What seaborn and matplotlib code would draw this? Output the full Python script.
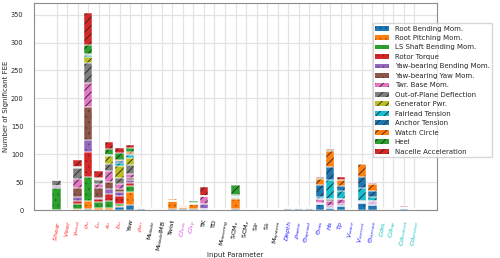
import numpy as np
import matplotlib
matplotlib.use("Agg")
import matplotlib.pyplot as plt
import seaborn as sns

# input parameters (x axis) and their label colours
params = ["$Shear$", "$Veer$", r"$\gamma_{wind}$", r"$\sigma_u$", "$L_u$", "$a_u$", "$b_u$", "Yaw",
          r"$\rho_{air}$", "M$_{blade}$", "M$_{blade}$IMB", "Twist", "$Cl_{loss}$", "$Cl_{tip}$",
          "TK", "TD", "M$_{mooring}$", "SCM$_x$", "SCM$_z$", "SI$_P$", "SI$_r$", "M$_{system}$",
          "$Depth$", r"$\rho_{water}$", r"$\Theta_{spread}$", r"$\Theta_{mis}$", "$Hs$", "$Tp$",
          "$V_{wave}$", "$V_{current}$", r"$\Theta_{current}$", "$Cd_{ML}$", "$Cd_{top}$",
          "$Cd_{bottom}$", "$Cd_{anchor}$"]
label_colors = (["#ff3030"] * 7 + ["black"] + ["#ff3030"] + ["black"] * 3 + ["#e040e0"] * 2
                + ["black"] * 8 + ["#2020ff"] * 9 + ["#10c0c0"] * 4)

# number of significant FEE per output channel
#                   Sh Ve gw su Lu au bu Yw ra Mb MI Tw Cl Ct TK TD Mm Sx Sz SP Sr Ms De rw ts tm Hs Tp Vw Vc tc CM Ct Cb Ca
root_bending    = [0, 0, 0, 2, 0, 0, 5, 9, 1, 0, 0, 1, 2, 1, 1, 0, 0, 2, 0, 0, 0, 0, 1, 1, 2, 10, 4, 8, 0, 12, 9, 0, 0, 2, 0]
root_pitching   = [0, 1, 1, 15, 4, 3, 3, 23, 2, 2, 2, 16, 3, 9, 0, 1, 1, 17, 1, 1, 1, 1, 2, 2, 1, 0, 0, 0, 1, 0, 0, 2, 2, 2, 1]
ls_shaft        = [40, 0, 9, 43, 11, 13, 3, 11, 0, 0, 0, 0, 0, 0, 0, 0, 0, 3, 0, 0, 0, 0, 0, 0, 0, 0, 0, 0, 0, 0, 0, 0, 0, 0, 0]
rotor_torque    = [0, 0, 6, 44, 4, 12, 14, 5, 0, 0, 0, 0, 0, 0, 0, 0, 0, 0, 0, 0, 0, 0, 0, 0, 0, 1, 0, 0, 0, 0, 0, 0, 0, 0, 0]
yaw_bending     = [3, 0, 7, 21, 2, 9, 8, 5, 0, 0, 0, 0, 1, 0, 9, 0, 0, 1, 0, 0, 0, 0, 0, 0, 0, 2, 3, 3, 0, 3, 4, 0, 0, 0, 0]
yaw_yaw         = [0, 1, 17, 60, 19, 14, 4, 4, 0, 0, 0, 0, 0, 0, 0, 0, 0, 0, 0, 0, 0, 0, 0, 0, 0, 0, 0, 0, 0, 0, 0, 0, 0, 0, 0]
twr_base        = [0, 0, 15, 42, 6, 18, 9, 7, 0, 0, 0, 0, 0, 0, 15, 0, 0, 0, 0, 0, 0, 0, 0, 0, 0, 6, 10, 9, 0, 2, 3, 0, 0, 0, 0]
out_of_plane    = [11, 0, 20, 37, 8, 14, 12, 16, 0, 0, 0, 0, 1, 2, 0, 0, 0, 0, 0, 0, 0, 0, 0, 0, 0, 0, 2, 0, 0, 0, 0, 0, 0, 0, 0]
generator_pwr   = [0, 0, 0, 10, 2, 13, 20, 13, 0, 0, 0, 0, 0, 1, 0, 0, 0, 0, 0, 0, 0, 0, 0, 0, 0, 0, 0, 0, 0, 0, 0, 0, 0, 0, 0]
fairlead        = [0, 0, 2, 3, 0, 2, 6, 5, 0, 0, 0, 0, 0, 0, 0, 0, 0, 2, 0, 0, 0, 0, 0, 0, 1, 4, 35, 14, 0, 22, 8, 0, 0, 0, 0]
anchor          = [0, 0, 0, 0, 0, 0, 3, 2, 0, 0, 0, 0, 1, 0, 0, 0, 0, 1, 0, 0, 0, 0, 1, 0, 0, 22, 23, 9, 0, 21, 10, 0, 0, 0, 0]
watch_circle    = [0, 0, 0, 3, 2, 1, 3, 4, 2, 1, 1, 2, 1, 0, 0, 1, 0, 0, 1, 1, 0, 1, 2, 2, 1, 10, 28, 10, 1, 22, 12, 1, 1, 2, 1]
heel            = [0, 0, 0, 16, 0, 10, 12, 7, 0, 0, 0, 0, 0, 3, 0, 0, 0, 19, 0, 0, 0, 0, 0, 0, 0, 2, 2, 1, 0, 1, 0, 0, 0, 0, 0]
nacelle_acc     = [0, 0, 13, 57, 11, 12, 9, 6, 0, 0, 0, 0, 0, 0, 17, 0, 0, 0, 0, 0, 0, 0, 0, 0, 0, 2, 3, 5, 0, 0, 2, 0, 0, 1, 0]

outputs = ["Root Bending Mom.", "Root Pitching Mom.", "LS Shaft Bending Mom.", "Rotor Torque",
           "Yaw-bearing Bending Mom.", "Yaw-bearing Yaw Mom.", "Twr. Base Mom.",
           "Out-of-Plane Deflection", "Generator Pwr.", "Fairlead Tension", "Anchor Tension",
           "Watch Circle", "Heel", "Nacelle Acceleration"]
series = [root_bending, root_pitching, ls_shaft, rotor_torque, yaw_bending, yaw_yaw, twr_base,
          out_of_plane, generator_pwr, fairlead, anchor, watch_circle, heel, nacelle_acc]


def main():
    sns.set_theme(style="whitegrid")
    plt.rcParams["font.family"] = ["DejaVu Sans"]
    plt.rcParams["hatch.linewidth"] = 0.6
    plt.rcParams["grid.color"] = "0.89"
    plt.rcParams["grid.linewidth"] = 0.9

    pal = sns.color_palette("tab10", 10)
    colors = pal + pal[:4]
    hatches = ["..."] * 6 + ["////"] * 8
    # dotted series get a darker shade of their own colour, hatched ones dark grey
    hatch_cols = [tuple(0.7 * np.array(c)) for c in colors[:6]] + ["0.15"] * 8

    fig, ax = plt.subplots(figsize=(5, 2.58), dpi=100)
    fig.subplots_adjust(left=0.068, right=0.874, bottom=0.186, top=0.988)

    x = np.arange(len(params))
    bottom = np.zeros(len(params))
    for name, vals, col, h, hc in zip(outputs, series, colors, hatches, hatch_cols):
        vals = np.array(vals, dtype=float)
        ax.bar(x, vals, 0.8, bottom=bottom, color=col, edgecolor=hc,
               linewidth=0, hatch=h, label=name, zorder=2)
        ax.bar(x, vals, 0.8, bottom=bottom, fill=False, edgecolor="white",
               linewidth=0.35, zorder=3)
        bottom += vals

    ax.set_xticks(x)
    ax.set_xticklabels(params, rotation=80, fontsize=4.6)
    for lbl, c in zip(ax.get_xticklabels(), label_colors):
        lbl.set_color(c)
    ax.set_yticks(np.arange(0, 351, 50))
    ax.tick_params(axis="y", labelsize=4.8, pad=1.5)
    ax.tick_params(axis="x", pad=1)
    ax.set_xlabel("Input Parameter", fontsize=5, labelpad=0)
    ax.set_ylabel("Number of Significant FEE", fontsize=5)
    ax.yaxis.set_label_coords(-0.062, 0.5)
    for sp in ax.spines.values():
        sp.set_color("0.55")
        sp.set_linewidth(0.8)

    ax.legend(loc="upper left", bbox_to_anchor=(0.84, 0.905), fontsize=5,
              frameon=True, borderaxespad=0)

    plt.savefig("out.png", dpi=100)
    plt.close("all")


if __name__ == "__main__":
    main()
